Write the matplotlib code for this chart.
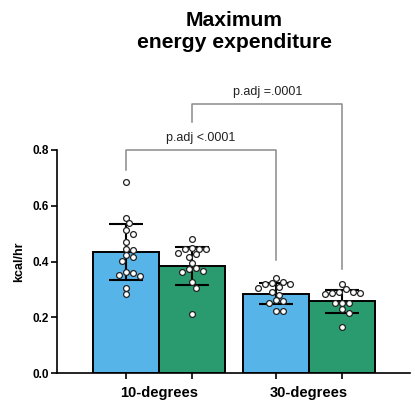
"""
Maximum energy expenditure at 10 and 30 degrees.
Bars are group means with SD error bars, individual animals drawn as open circles.
"""

from matplotlib import pyplot as pp
from matplotlib import rc
import numpy as np

rc('font', **{'family': 'sans-serif', 'sans-serif': ['Liberation Sans', 'DejaVu Sans']})

groupNames = ["10-degrees", "30-degrees"]
seriesColors = ["#56B4E9", "#2A9B6E"]

# per-animal maxima (kcal/hr), [blue, green] for each temperature
points10 = [
  [0.686, 0.555, 0.537, 0.499, 0.512, 0.471, 0.441, 0.445, 0.417, 0.423,
   0.402, 0.352, 0.349, 0.357, 0.363, 0.306, 0.283],
  [0.481, 0.444, 0.445, 0.447, 0.444, 0.426, 0.429, 0.415, 0.396, 0.373,
   0.378, 0.367, 0.361, 0.325, 0.305, 0.212],
]
points30 = [
  [0.340, 0.319, 0.322, 0.319, 0.325, 0.304, 0.307, 0.292, 0.280, 0.259,
   0.262, 0.250, 0.223, 0.223],
  [0.318, 0.288, 0.283, 0.286, 0.290, 0.292, 0.300, 0.252, 0.250, 0.250,
   0.228, 0.214, 0.166],
]

means = [[0.434, 0.384], [0.285, 0.258]]
sds = [[0.101, 0.069], [0.037, 0.041]]

# comparisons: (group, series) pairs, bracket height, leg ends, label
comparisons = [
  {"a": (0, 0), "b": (1, 0), "top": 0.800, "legs": (0.728, 0.405), "label": "p.adj <.0001", "ty": 0.843},
  {"a": (0, 1), "b": (1, 1), "top": 0.964, "legs": (0.900, 0.373), "label": "p.adj =.0001", "ty": 1.008},
]

barWidth = 0.443
offsets = [-0.2215, 0.2215]
XPX = 150.0   # pixels per x unit
YPX = 278.75  # pixels per kcal/hr


def swarm(vals, step=3.5, minDist=6.0):
  """Simple beeswarm: spread points sideways so circles don't overlap."""
  placed = []
  xs = np.zeros(len(vals))
  order = np.argsort(vals)[::-1]
  cands = [0.0]
  for k in range(1, 12):
    cands += [k * step, -k * step]
  for i in order:
    y = vals[i] * YPX
    for dx in cands:
      if all(np.hypot(dx - px, y - py) >= minDist for px, py in placed):
        break
    placed.append((dx, y))
    xs[i] = dx / XPX
  return xs


def main():
  fig = pp.figure(figsize=(4.15, 4.05), dpi=100)
  ax = fig.add_axes([57 / 415, 1 - 373 / 405, 353 / 415, 223 / 405])

  allPoints = [points10, points30]
  barCenters = []
  for g in range(len(groupNames)):
    for s in range(2):
      x = g + offsets[s]
      barCenters.append(x)
      ax.bar(x, means[g][s], width=barWidth, color=seriesColors[s],
             edgecolor='black', linewidth=1.4, zorder=2)
      vals = np.array(allPoints[g][s])
      ax.plot(x + swarm(vals), vals, 'o', ms=4.2, mfc='white', mec='#222222',
              mew=0.9, zorder=4, clip_on=False)
      ax.errorbar(x, means[g][s], yerr=sds[g][s], color='black', elinewidth=1.5,
                  capsize=12.5, capthick=1.5, zorder=3)

  for c in comparisons:
    xa = c["a"][0] + offsets[c["a"][1]]
    xb = c["b"][0] + offsets[c["b"][1]]
    ax.plot([xa, xa, xb, xb], [c["legs"][0], c["top"], c["top"], c["legs"][1]],
            color='#8a8a8a', lw=1.1, clip_on=False, zorder=1)
    ax.text((xa + xb) / 2, c["ty"], c["label"], ha='center', va='center',
            fontsize=9, color='#222222')

  ax.set_xlim(-0.68, 1.673)
  ax.set_ylim(0, 0.8)
  ax.set_yticks([0, 0.2, 0.4, 0.6, 0.8])
  ax.set_yticklabels(["0.0", "0.2", "0.4", "0.6", "0.8"], fontweight='bold', fontsize=8.5)
  ax.set_xticks(barCenters)
  ax.set_xticklabels([])
  ax.set_xticks([0, 1], minor=True)
  ax.set_xticklabels(groupNames, minor=True, fontweight='bold', fontsize=10.5)
  ax.tick_params(axis='x', which='minor', length=0, pad=9)
  ax.tick_params(axis='both', which='major', length=4, width=1.2, pad=2)
  ax.set_ylabel("kcal/hr", fontweight='bold', fontsize=9, labelpad=5)

  ax.spines['right'].set_visible(False)
  ax.spines['top'].set_visible(False)
  ax.spines['left'].set_linewidth(1.2)
  ax.spines['bottom'].set_linewidth(1.2)

  fig.text(234 / 415, 1 - 31 / 405, "Maximum\nenergy expenditure", ha='center', va='center',
           fontsize=15.2, fontweight='bold', linespacing=1.2)

  pp.savefig('out.png', dpi=100)


if __name__ == "__main__":
  main()
